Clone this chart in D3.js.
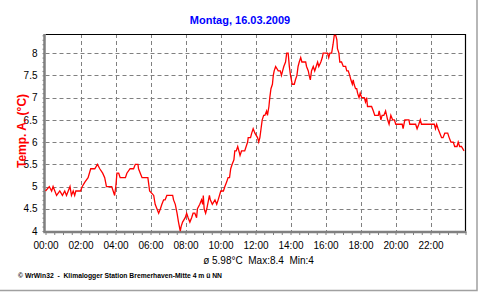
<!DOCTYPE html>
<meta charset="utf-8">
<style>
body { margin: 0; background: #fff; }
svg { display: block; font-family: "Liberation Sans", Arial, sans-serif; }
</style>
<svg width="480" height="292"></svg>
<script src="https://cdn.jsdelivr.net/npm/d3@7"></script>
<script>

var day = "16.03.2009",
    title = "Montag, 16.03.2009",
    yLabel = "Temp. A. (°C)",
    stats = "ø 5.98°C  Max:8.4  Min:4",
    footer = "© WrWin32  -  Klimalogger Station Bremerhaven-Mitte 4 m ü NN";

var times = ["00:00","00:13","00:21","00:26","00:38","00:49","00:58","01:06","01:12","01:18",
             "01:24","01:29","01:35","01:40","01:44","02:00","02:06","02:15","02:26","02:35",
             "02:49","02:58","03:06","03:16","03:23","03:29","03:47","03:52","03:57","04:01",
             "04:05","04:11","04:16","04:28","04:34","04:39","04:50","05:02","05:08","05:17",
             "05:19","05:25","05:31","05:51","05:53","05:57","06:11","06:16","06:22","06:28",
             "06:34","06:39","06:45","06:50","06:56","07:16","07:19","07:25","07:31","07:36",
             "07:42","07:45","07:50","07:59","08:04","08:09","08:15","08:21","08:26","08:32",
             "08:38","08:41","08:49","08:55","08:59","09:01","09:04","09:09","09:13","09:22",
             "09:25","09:32","09:41","09:47","09:52","10:01","10:10","10:15","10:21","10:26",
             "10:31","10:35","10:40","10:46","10:49","10:54","10:59","11:03","11:07","11:12",
             "11:23","11:33","11:35","11:43","11:47","11:52","11:58","12:07","12:11","12:15",
             "12:19","12:23","12:28","12:32","12:38","12:41","12:46","12:49","12:53","12:58",
             "13:01","13:04","13:09","13:18","13:25","13:29","13:33","13:37","13:43","13:47",
             "13:52","13:56","14:00","14:06","14:13","14:17","14:22","14:26","14:30","14:35",
             "14:39","14:52","14:55","15:01","15:04","15:08","15:12","15:18","15:23","15:28",
             "15:33","15:37","15:44","15:49","15:52","16:07","16:11","16:15","16:21","16:26",
             "16:30","16:35","16:39","16:41","16:46","16:49","16:55","17:01","17:09","17:13",
             "17:18","17:23","17:27","17:32","17:35","17:38","17:43","17:47","17:50","17:55",
             "17:59","18:04","18:13","18:17","18:21","18:24","18:38","18:44","18:49","19:01",
             "19:04","19:10","19:14","19:20","19:26","19:33","19:38","19:44","19:50","19:56",
             "20:01","20:19","20:23","20:26","20:32","20:46","20:49","21:09","21:14","21:20",
             "21:25","21:29","22:13","22:17","22:21","22:26","22:32","22:38","22:43","22:49",
             "22:59","23:04","23:10","23:18","23:23","23:31","23:35","23:40","23:46","23:55"];

var temps = [4.9,5.0,4.9,5.0,4.8,4.9,4.8,4.9,4.8,4.9,
             5.0,4.8,4.9,4.8,4.9,4.9,5.0,5.1,5.2,5.4,
             5.4,5.5,5.4,5.3,5.2,5.0,5.0,4.9,4.8,5.0,
             5.3,5.3,5.2,5.2,5.2,5.3,5.4,5.4,5.5,5.5,
             5.4,5.3,5.2,5.2,5.1,4.9,4.8,4.6,4.5,4.4,
             4.5,4.6,4.7,4.7,4.8,4.8,4.7,4.6,4.4,4.2,
             4.0,4.1,4.2,4.3,4.4,4.3,4.2,4.3,4.4,4.4,
             4.3,4.5,4.6,4.7,4.6,4.8,4.5,4.4,4.5,4.8,
             4.7,4.6,4.7,4.6,4.7,4.9,4.9,5.0,5.1,5.2,
             5.2,5.4,5.5,5.6,5.8,5.8,5.9,5.8,5.7,5.8,
             5.8,6.0,6.1,6.1,6.2,6.3,6.2,6.1,6.0,6.1,
             6.3,6.5,6.6,6.6,6.7,6.6,6.8,7.0,7.2,7.3,
             7.5,7.6,7.7,7.6,7.6,7.5,7.6,7.7,7.8,8.0,
             8.0,7.7,7.5,7.3,7.3,7.4,7.5,7.7,7.8,7.9,
             7.8,7.8,7.7,7.6,7.5,7.4,7.6,7.7,7.6,7.7,
             7.8,7.7,7.8,7.9,8.0,8.0,7.9,8.0,8.0,8.2,
             8.4,8.4,8.3,8.1,8.0,7.8,7.8,7.7,7.7,7.6,
             7.6,7.5,7.4,7.3,7.4,7.3,7.2,7.2,7.1,7.0,
             7.1,7.0,7.0,6.9,7.0,6.8,6.8,6.7,6.6,6.6,
             6.7,6.5,6.6,6.6,6.7,6.5,6.4,6.6,6.5,6.5,
             6.4,6.4,6.4,6.3,6.5,6.5,6.4,6.4,6.3,6.4,
             6.5,6.4,6.4,6.3,6.4,6.3,6.2,6.1,6.1,6.2,
             6.2,6.1,6.0,6.0,5.9,5.9,6.0,5.9,5.9,5.8];

var yTicks = [4, 4.5, 5, 5.5, 6, 6.5, 7, 7.5, 8];
var hourTicks = ["00:00","02:00","04:00","06:00","08:00","10:00",
                 "12:00","14:00","16:00","18:00","20:00","22:00"];

var svg = d3.select("svg"),
    parse = d3.timeParse("%d.%m.%Y %H:%M"),
    start = parse(day + " 00:00"),
    end = d3.timeDay.offset(start, 1),
    x0 = 45.5, x1 = 465.5, y0 = 231, y1 = 34,
    grey = "#808080";

var x = d3.scaleTime().domain([start, end]).range([x0, x1]),
    y = d3.scaleLinear().domain([4, 8.43]).range([y0, y1]);

var data = times.map((t, i) => ({t: parse(day + " " + t), v: temps[i]})),
    hours = hourTicks.map(h => parse(day + " " + h));

svg.append("rect").attr("width", 480).attr("height", 292).attr("fill", "#fff");

// outer frame (right + bottom)
svg.append("path")
    .attr("d", "M477,0V290.5H0")
    .attr("fill", "none").attr("stroke", "#a0a0a0").attr("stroke-width", 1.5);

// grid
var grid = svg.append("g").attr("stroke", grey).attr("stroke-dasharray", "4,3").attr("stroke-width", 1);
grid.selectAll(".h").data(yTicks.slice(1)).enter().append("line")
    .attr("x1", x0).attr("x2", x1)
    .attr("y1", d => Math.round(y(d)) + 0.5).attr("y2", d => Math.round(y(d)) + 0.5);
grid.selectAll(".v").data(hours.slice(1)).enter().append("line")
    .attr("y1", y1).attr("y2", y0)
    .attr("x1", d => Math.round(x(d)) + 0.5).attr("x2", d => Math.round(x(d)) + 0.5);

// top / right border
svg.append("path")
    .attr("d", "M" + x0 + "," + (y1 + 0.5) + "H" + x1 + "V" + y0)
    .attr("fill", "none").attr("stroke", "#000").attr("stroke-width", 1.2);

// minor ticks
var yMinor = svg.append("g").attr("transform", "translate(" + (x0 - 1) + ",0)")
    .call(d3.axisLeft(y).tickValues(d3.range(40, 85).map(d => d / 10)).tickSize(2).tickFormat(""));
var xMinor = svg.append("g").attr("transform", "translate(0," + (y0 + 1) + ")")
    .call(d3.axisBottom(x).ticks(d3.timeMinute.every(30)).tickSize(3).tickFormat(""));
[yMinor, xMinor].forEach(g => {
  g.select(".domain").remove();
  g.selectAll("line").attr("stroke", grey);
});

// labels
var yAxis = svg.append("g").attr("transform", "translate(" + x0 + ",0)")
    .call(d3.axisLeft(y).tickValues(yTicks).tickSize(0).tickPadding(8).tickFormat(d => String(d)));
var xAxis = svg.append("g").attr("transform", "translate(0," + y0 + ")")
    .call(d3.axisBottom(x).tickValues(hours).tickSize(0).tickPadding(11).tickFormat(d3.timeFormat("%H:%M")));
[yAxis, xAxis].forEach(g => {
  g.select(".domain").remove();
  g.selectAll("text").attr("font-family", "Liberation Sans, Arial, sans-serif")
      .attr("font-size", 10).attr("fill", "#000");
});

// thick grey axes
svg.append("path")
    .attr("d", "M" + (x0 - 1) + "," + y1 + "V" + (y0 + 1) + "H" + (x1 + 1))
    .attr("fill", "none").attr("stroke", grey).attr("stroke-width", 2.5);

// temperature line
svg.append("path")
    .datum(data)
    .attr("fill", "none")
    .attr("stroke", "#ff0000")
    .attr("stroke-width", 1.3)
    .attr("d", d3.line().x(d => x(d.t)).y(d => y(d.v)));

svg.append("text")
    .attr("x", 240).attr("y", 23.5)
    .attr("text-anchor", "middle")
    .attr("font-size", 11).attr("font-weight", "bold").attr("fill", "#0000ff")
    .text(title);

svg.append("text")
    .attr("transform", "translate(26,131) rotate(-90)")
    .attr("text-anchor", "middle")
    .attr("font-size", 12).attr("font-weight", "bold").attr("fill", "#ff0000")
    .text(yLabel);

svg.append("text")
    .attr("x", 258.5).attr("y", 263.5)
    .attr("text-anchor", "middle")
    .attr("font-size", 10).attr("fill", "#000")
    .style("white-space", "pre")
    .text(stats);

svg.append("text")
    .attr("x", 18).attr("y", 277.5)
    .attr("font-size", 6.5).attr("font-weight", "bold").attr("fill", "#000")
    .attr("textLength", 204).attr("lengthAdjust", "spacingAndGlyphs")
    .style("white-space", "pre")
    .text(footer);

</script>
